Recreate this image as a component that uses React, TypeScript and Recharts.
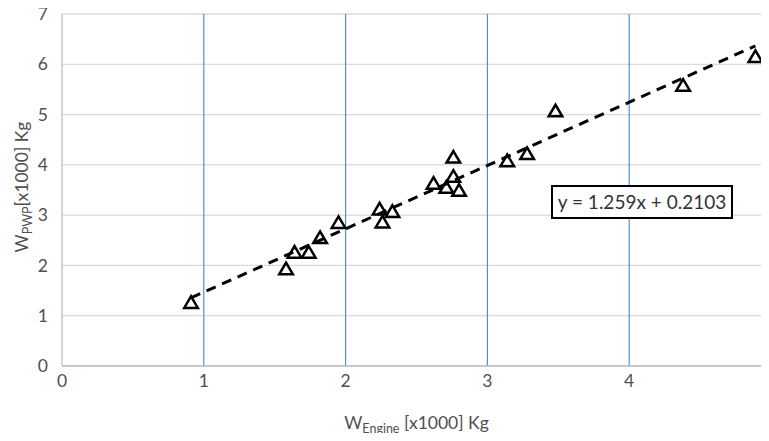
import React from "react";
import {
  ScatterChart,
  Scatter,
  XAxis,
  YAxis,
  CartesianGrid,
  ReferenceLine,
  Label,
} from "recharts";

// engine weight vs. PWP weight, both in thousands of kg
const engineWeights = [
  0.91, 1.58, 1.64, 1.74, 1.82, 1.95, 2.24, 2.26, 2.33, 2.62, 2.71, 2.76, 2.76, 2.8, 3.14, 3.28, 3.48, 4.38, 4.89,
];
const pwpWeights = [
  1.27, 1.94, 2.27, 2.27, 2.56, 2.86, 3.13, 2.87, 3.08, 3.64, 3.56, 4.16, 3.78, 3.5, 4.09, 4.23, 5.08, 5.59, 6.16,
];
const xTicks = [0, 1, 2, 3, 4, 5];
const yTicks = [0, 1, 2, 3, 4, 5, 6, 7];
const blueGridValues = [1, 2, 3, 4];

// linear fit y = slope * x + intercept
const slope = 1.259;
const intercept = 0.2103;

const points = engineWeights.map((x, i) => ({ x, y: pwpWeights[i] }));
const xMin = Math.min(...engineWeights);
const xMax = Math.max(...engineWeights);
const fitSegment = [
  { x: xMin, y: slope * xMin + intercept },
  { x: xMax, y: slope * xMax + intercept },
];

const FONT = "Lato, 'Open Sans', sans-serif";
const TEXT = "#505050";

const Triangle = (props: any) => {
  const { cx, cy } = props;
  if (cx == null || cy == null) return null;
  const w = 6.8;
  const h = 5.8;
  return (
    <path
      d={`M${cx},${cy - h} L${cx + w},${cy + h} L${cx - w},${cy + h} Z`}
      fill="none"
      stroke="#000"
      strokeWidth={2.5}
      strokeLinejoin="miter"
    />
  );
};

const XTitle = ({ viewBox }: any) => {
  const cx = viewBox.x + viewBox.width / 2;
  return (
    <text x={cx} y={viewBox.y + 63} textAnchor="middle" fill={TEXT} fontFamily={FONT} fontSize={17.5}>
      <tspan>W</tspan>
      <tspan fontSize={12.5} dy={4}>Engine</tspan>
      <tspan dy={-4}> [x1000] Kg</tspan>
    </text>
  );
};

const YTitle = ({ viewBox }: any) => {
  const cy = viewBox.y + viewBox.height / 2 - 3;
  const x = 28;
  return (
    <text
      x={x}
      y={cy}
      transform={`rotate(-90 ${x} ${cy})`}
      textAnchor="middle"
      fill={TEXT}
      fontFamily={FONT}
      fontSize={17.5}
    >
      <tspan>W</tspan>
      <tspan fontSize={12.5} dy={4}>PWP</tspan>
      <tspan dy={-4}>[x1000] Kg</tspan>
    </text>
  );
};

export default function App() {
  return (
    <div style={{ position: "relative", margin: -8, width: 769, height: 441, overflow: "hidden", background: "#fff" }}>
      <ScatterChart width={790} height={441} margin={{ top: 14, right: 19, bottom: 15, left: 0 }}>
        <CartesianGrid vertical={false} stroke="#d9d9d9" strokeWidth={1.3} />
        <CartesianGrid horizontal={false} verticalValues={blueGridValues} stroke="#4f8fdb" strokeWidth={1.2} />
        <XAxis
          type="number"
          dataKey="x"
          domain={[0, 5]}
          ticks={xTicks}
          height={60}
          tickLine={false}
          tickSize={0}
          tickMargin={9}
          axisLine={{ stroke: "#bfbfbf", strokeWidth: 1.3 }}
          tick={{ fill: TEXT, fontSize: 17.5, fontFamily: FONT }}
        >
          <Label content={<XTitle />} />
        </XAxis>
        <YAxis
          type="number"
          dataKey="y"
          domain={[0, 7]}
          ticks={yTicks}
          width={62}
          tickLine={false}
          tickSize={0}
          tickMargin={14}
          axisLine={{ stroke: "#bfbfbf", strokeWidth: 1.3 }}
          tick={{ fill: TEXT, fontSize: 17.5, fontFamily: FONT }}
        >
          <Label content={<YTitle />} />
        </YAxis>
        <Scatter data={points} shape={<Triangle />} isAnimationActive={false} />
        <ReferenceLine
          segment={fitSegment}
          stroke="#000"
          strokeWidth={3}
          strokeDasharray="10 7"
          ifOverflow="visible"
        />
      </ScatterChart>
      <div
        style={{
          position: "absolute",
          left: 551,
          top: 185,
          width: 178,
          height: 30,
          border: "2px solid #000",
          background: "#fff",
          fontFamily: FONT,
          fontSize: 19,
          color: "#333",
          lineHeight: "30px",
          textAlign: "center",
          whiteSpace: "nowrap",
        }}
      >
        y = 1.259x + 0.2103
      </div>
    </div>
  );
}
